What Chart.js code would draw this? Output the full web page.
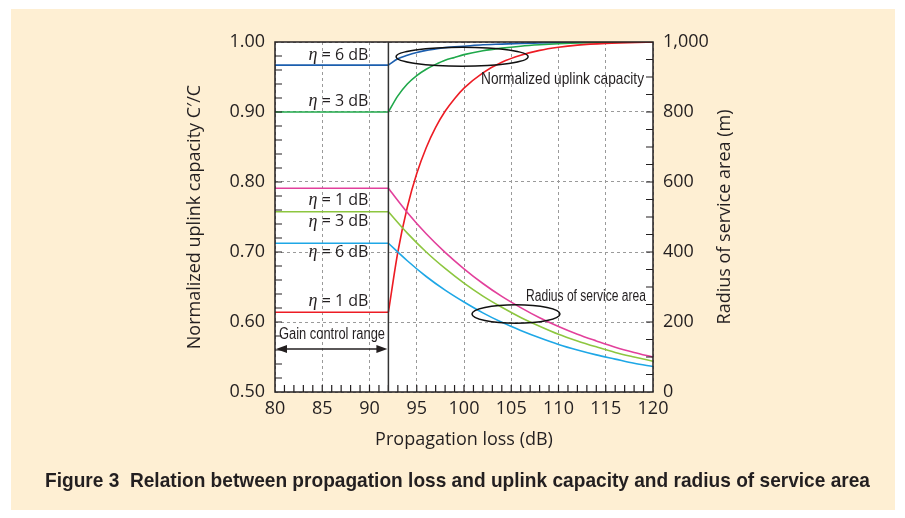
<!DOCTYPE html>
<html>
<head>
<meta charset="utf-8">
<script src="https://cdn.jsdelivr.net/npm/chart.js@4.4.1/dist/chart.umd.min.js"></script>
<style>
  html, body { margin: 0; padding: 0; background: #fff; }
  canvas { display: block; }
</style>
</head>
<body>
<canvas id="myChart" width="905" height="518"></canvas>
<script>
// propagation loss (dB) where the curves were read
const lossFlat = [80, 92];
const lossCap = [92, 93, 94, 95, 96, 97, 98, 99, 100, 102, 104, 106, 108, 110, 112, 115, 120];
const lossRad = [92, 94, 96, 98, 100, 102, 104, 106, 108, 110, 112, 114, 116, 118, 120];

// normalized uplink capacity C'/C (left axis)
const capEta1 = [0.614, 0.700, 0.764, 0.812, 0.849, 0.878, 0.901, 0.919, 0.934, 0.956, 0.971, 0.981, 0.988, 0.9925, 0.9955, 0.998, 1.000];
const capEta3 = [0.900, 0.923, 0.940, 0.952, 0.961, 0.968, 0.974, 0.978, 0.982, 0.9875, 0.9912, 0.994, 0.996, 0.9975, 0.9985, 0.9994, 1.000];
const capEta6 = [0.967, 0.976, 0.981, 0.985, 0.988, 0.990, 0.992, 0.993, 0.994, 0.996, 0.997, 0.998, 0.9985, 0.999, 0.9995, 1.000, 1.000];

// radius of service area in m (right axis)
const radEta1 = [582, 513, 452, 399, 352, 310, 273, 241, 212, 187, 165, 146, 128, 113, 100];
const radEta3 = [515, 454, 400, 353, 311, 274, 242, 213, 188, 165, 146, 129, 113, 100, 88];
const radEta6 = [425, 375, 330, 291, 257, 226, 199, 176, 155, 136, 120, 106, 94, 82, 73];

const xTicks = [80, 85, 90, 95, 100, 105, 110, 115, 120];
const capTicks = [0.5, 0.6, 0.7, 0.8, 0.9, 1.0];
const radTicks = [0, 200, 400, 600, 800, 1000];

const sans = '"Open Sans", "Noto Sans", sans-serif';
const narrow = '"Liberation Sans", Arial, sans-serif';
const ink = '#231f20';

function pts(xs, ys) {
  return xs.map((x, i) => ({ x: x, y: ys[i] }));
}

function line(data, color, axis) {
  return {
    data: data,
    yAxisID: axis,
    borderColor: color,
    borderWidth: 1.6,
    pointRadius: 0,
    cubicInterpolationMode: 'monotone',
    fill: false
  };
}

const red = '#ed1c24', green = '#1fa84a', blue = '#1b5eae';
const pink = '#e2409b', lime = '#8dc63f', cyan = '#1ea7e6';

const datasets = [
  line(pts(lossFlat, [radEta1[0], radEta1[0]]), pink, 'y1'),
  line(pts(lossRad, radEta1), pink, 'y1'),
  line(pts(lossFlat, [radEta3[0], radEta3[0]]), lime, 'y1'),
  line(pts(lossRad, radEta3), lime, 'y1'),
  line(pts(lossFlat, [radEta6[0], radEta6[0]]), cyan, 'y1'),
  line(pts(lossRad, radEta6), cyan, 'y1'),
  line(pts(lossFlat, [capEta1[0], capEta1[0]]), red, 'y'),
  line(pts(lossCap, capEta1), red, 'y'),
  line(pts(lossFlat, [capEta3[0], capEta3[0]]), green, 'y'),
  line(pts(lossCap, capEta3), green, 'y'),
  line(pts(lossFlat, [capEta6[0], capEta6[0]]), blue, 'y'),
  line(pts(lossCap, capEta6), blue, 'y')
];

// text squeezed to a given width (the original uses a condensed face)
function fitText(ctx, txt, x, y, width, font) {
  ctx.save();
  ctx.font = font;
  ctx.textAlign = 'left';
  ctx.textBaseline = 'middle';
  const w = ctx.measureText(txt).width;
  ctx.translate(x, y);
  ctx.scale(width / w, 1);
  ctx.fillText(txt, 0, 0);
  ctx.restore();
}

function etaLabel(ctx, txt, xr, y) {
  ctx.font = '16px ' + sans;
  ctx.textAlign = 'right';
  ctx.textBaseline = 'middle';
  ctx.fillText(' = ' + txt, xr, y);
  const w = ctx.measureText(' = ' + txt).width;
  ctx.font = 'italic 18px "Liberation Serif", "DejaVu Serif", serif';
  ctx.fillText('\u03b7', xr - w, y);
}

const decor = {
  id: 'decor',
  beforeDraw(chart) {
    const { ctx, chartArea: a } = chart;
    ctx.save();
    ctx.fillStyle = '#ffffff';
    ctx.fillRect(0, 0, chart.width, chart.height);
    ctx.fillStyle = '#feefd3';
    ctx.fillRect(11, 9, 884, 501);
    ctx.fillStyle = '#ffffff';
    ctx.fillRect(a.left, a.top, a.width, a.height);
    ctx.restore();
  },
  afterDraw(chart) {
    const { ctx, chartArea: a } = chart;
    const sx = chart.scales.x, sy = chart.scales.y, sr = chart.scales.y1;
    ctx.save();
    ctx.strokeStyle = ink;
    ctx.fillStyle = ink;

    // inward ticks
    ctx.lineWidth = 1.2;
    ctx.beginPath();
    for (let v = 81; v < 120; v++) {
      const px = sx.getPixelForValue(v);
      ctx.moveTo(px, a.bottom);
      ctx.lineTo(px, a.bottom - 7);
    }
    for (let i = 1; i < 25; i++) {
      const py = sy.getPixelForValue(0.5 + i * 0.02);
      ctx.moveTo(a.left, py);
      ctx.lineTo(a.left + 7, py);
    }
    for (let v = 50; v < 1000; v += 50) {
      const py = sr.getPixelForValue(v);
      ctx.moveTo(a.right, py);
      ctx.lineTo(a.right - 7, py);
    }
    ctx.stroke();

    // frame and gain control edge
    ctx.lineWidth = 1.5;
    ctx.strokeRect(a.left, a.top, a.width, a.height);
    const x92 = sx.getPixelForValue(92);
    ctx.strokeStyle = '#333';
    ctx.beginPath();
    ctx.moveTo(x92, a.top);
    ctx.lineTo(x92, a.bottom);
    ctx.stroke();

    // eta labels
    ctx.fillStyle = ink;
    const xr = x92 - 20;
    etaLabel(ctx, '6 dB', xr, sy.getPixelForValue(0.981));
    etaLabel(ctx, '3 dB', xr, sy.getPixelForValue(0.915));
    etaLabel(ctx, '1 dB', xr, sy.getPixelForValue(0.774));
    etaLabel(ctx, '3 dB', xr, sy.getPixelForValue(0.743));
    etaLabel(ctx, '6 dB', xr, sy.getPixelForValue(0.699));
    etaLabel(ctx, '1 dB', xr, sy.getPixelForValue(0.630));

    // ellipses
    ctx.strokeStyle = '#111';
    ctx.lineWidth = 1.5;
    ctx.beginPath();
    ctx.ellipse(sx.getPixelForValue(99.8), sy.getPixelForValue(0.979), 66, 9.5, 0, 0, Math.PI * 2);
    ctx.stroke();
    ctx.beginPath();
    ctx.ellipse(sx.getPixelForValue(105.5), sr.getPixelForValue(223), 44, 9.2, 0, 0, Math.PI * 2);
    ctx.stroke();

    // callouts
    fitText(ctx, 'Normalized uplink capacity', 481, sy.getPixelForValue(0.947), 163, '17px ' + narrow);
    fitText(ctx, 'Radius of service area', 526, sr.getPixelForValue(274), 120, '16px ' + narrow);
    fitText(ctx, 'Gain control range', a.left + 4, sy.getPixelForValue(0.5 + (392 - 335) / 700), 106, '16px ' + narrow);

    // double arrow
    const ay = sy.getPixelForValue(0.5 + (392 - 349) / 700);
    ctx.strokeStyle = ink;
    ctx.beginPath();
    ctx.moveTo(a.left + 8, ay);
    ctx.lineTo(x92 - 8, ay);
    ctx.stroke();
    ctx.beginPath();
    ctx.moveTo(a.left + 1, ay);
    ctx.lineTo(a.left + 12, ay - 4);
    ctx.lineTo(a.left + 12, ay + 4);
    ctx.closePath();
    ctx.moveTo(x92 - 1, ay);
    ctx.lineTo(x92 - 12, ay - 4);
    ctx.lineTo(x92 - 12, ay + 4);
    ctx.closePath();
    ctx.fill();

    // right axis title, reading upward like the left one
    ctx.save();
    ctx.translate(725, (a.top + a.bottom) / 2);
    ctx.rotate(-Math.PI / 2);
    ctx.font = '18px ' + sans;
    ctx.textAlign = 'center';
    ctx.textBaseline = 'middle';
    ctx.fillText('Radius of service area (m)', 0, 0);
    ctx.restore();

    // caption
    fitText(ctx, 'Figure 3  Relation between propagation loss and uplink capacity and radius of service area', 45, 481, 825, 'bold 21px ' + narrow);
    ctx.restore();
  }
};

new Chart(document.getElementById('myChart'), {
  type: 'line',
  data: { datasets: datasets },
  plugins: [decor],
  options: {
    responsive: false,
    animation: false,
    layout: { padding: { left: 183, right: 166, top: 42, bottom: 66 } },
    plugins: { legend: { display: false }, tooltip: { enabled: false } },
    scales: {
      x: {
        type: 'linear',
        min: 80, max: 120,
        afterBuildTicks: s => { s.ticks = xTicks.map(v => ({ value: v })); },
        afterFit: s => { s.height = 60; },
        ticks: { color: ink, font: { family: sans, size: 18 }, padding: 6 },
        grid: { color: '#9a9a9a', lineWidth: 1, drawTicks: false },
        border: { display: false, dash: [3, 3] },
        title: { display: true, text: 'Propagation loss (dB)', color: ink, font: { family: sans, size: 18 }, padding: { top: 0, bottom: 1 } }
      },
      y: {
        min: 0.5, max: 1.0,
        afterBuildTicks: s => { s.ticks = capTicks.map(v => ({ value: v })); },
        afterFit: s => { s.width = 92; },
        ticks: { color: ink, font: { family: sans, size: 18 }, padding: 10, callback: v => v.toFixed(2) },
        grid: { color: '#9a9a9a', lineWidth: 1, drawTicks: false },
        border: { display: false, dash: [3, 3] },
        title: { display: true, text: 'Normalized uplink capacity C\u2032/C', color: ink, font: { family: sans, size: 18 }, padding: { top: 1, bottom: 0 } }
      },
      y1: {
        position: 'right',
        min: 0, max: 1000,
        afterBuildTicks: s => { s.ticks = radTicks.map(v => ({ value: v })); },
        afterFit: s => { s.width = 86; },
        ticks: { color: ink, font: { family: sans, size: 18 }, padding: 10, callback: v => v.toLocaleString('en-US') },
        grid: { display: false, drawTicks: false },
        border: { display: false }
      }
    }
  }
});
</script>
</body>
</html>
